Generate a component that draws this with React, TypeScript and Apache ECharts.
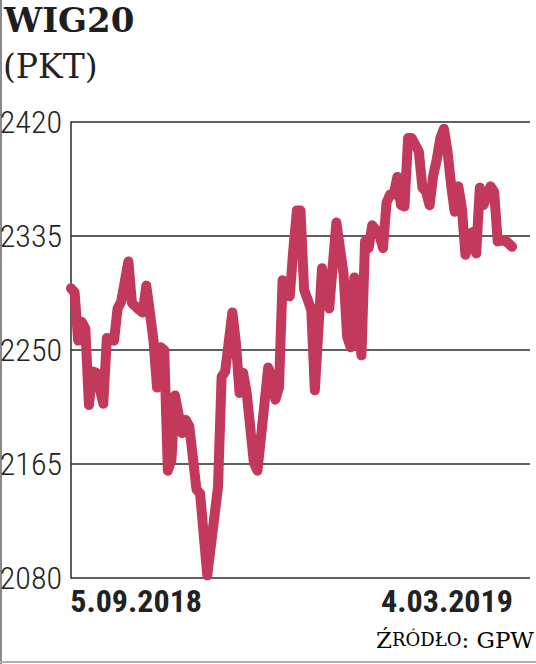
import React, { useEffect, useRef } from 'react';
import * as echarts from 'echarts';

// trading-day index (0 = 5.09.2018, 123 = 4.03.2019) and WIG20 close (pkt)
const dayIndex = [
  0, 1, 2, 3, 4, 5, 6, 7, 9, 10, 12, 13, 14, 16, 17, 19, 20, 21, 22, 23, 24, 25, 26, 27, 28, 29,
  31, 32, 33, 35, 36, 38, 41, 42, 43, 45, 46, 47, 48, 49, 51, 52, 55, 56, 57, 58, 59, 61, 62, 63,
  64, 65, 67, 68, 70, 71, 72, 74, 76, 77, 78, 79, 80, 81, 82, 83, 84, 86, 87, 88, 89, 90, 91, 92,
  93, 94, 95, 97, 98, 99, 100, 101, 102, 103, 104, 105, 106, 107, 108, 109, 110, 112, 113, 114,
  115, 117, 118, 119, 121, 123,
];
const wig20 = [
  2296, 2293, 2257, 2271, 2266, 2209, 2234, 2233, 2210, 2259, 2257, 2281, 2286, 2316, 2285, 2280,
  2278, 2298, 2278, 2257, 2222, 2252, 2250, 2160, 2168, 2216, 2188, 2198, 2193, 2146, 2143, 2082,
  2148, 2230, 2234, 2278, 2255, 2218, 2233, 2218, 2166, 2160, 2237, 2230, 2213, 2222, 2302, 2290,
  2325, 2354, 2354, 2295, 2280, 2220, 2311, 2295, 2281, 2345, 2307, 2260, 2252, 2304, 2276, 2246,
  2331, 2326, 2343, 2336, 2326, 2360, 2366, 2366, 2379, 2358, 2357, 2408, 2408, 2398, 2371, 2368,
  2358, 2380, 2392, 2408, 2415, 2398, 2373, 2353, 2372, 2356, 2321, 2338, 2322, 2371, 2358, 2372,
  2368, 2331, 2332, 2327,
];
const yMin = 2080;
const yMax = 2420;
const yStep = 85;
const dateTickDays = [0, 123];
const dateTickLabels = ['5.09.2018', '4.03.2019'];
const titleText = 'WIG20';
const unitText = '(PKT)';

const NARROW = 'Roboto Condensed';
const SERIF = 'DejaVu Serif';

export default function App() {
  const ref = useRef<HTMLDivElement>(null);
  useEffect(() => {
    const chart = echarts.init(ref.current!, null, { renderer: 'svg' });
    const data = dayIndex.map((d, i) => [d, wig20[i]]);
    chart.setOption({
      animation: false,
      backgroundColor: '#ffffff',
      grid: { left: 71, right: 6, top: 122, bottom: 86, containLabel: false, outerBoundsMode: 'none' },
      xAxis: {
        type: 'value',
        min: 0,
        max: 128,
        axisLine: { show: false },
        axisTick: { show: false },
        splitLine: { show: false },
        axisLabel: {
          customValues: dateTickDays,
          margin: 7,
          formatter: (v: number) => {
            const i = dateTickDays.indexOf(v);
            if (i < 0) return '';
            return i === 0 ? `{l|${dateTickLabels[i]}}` : `{r|${dateTickLabels[i]}}`;
          },
          rich: {
            l: { width: 262, align: 'right', fontFamily: NARROW, fontSize: 32, fontWeight: 'bold', color: '#222' },
            r: { width: 262, align: 'left', fontFamily: NARROW, fontSize: 32, fontWeight: 'bold', color: '#222' },
          },
        },
      },
      yAxis: {
        type: 'value',
        min: yMin,
        max: yMax,
        interval: yStep,
        axisLine: { show: true, lineStyle: { color: '#2a2a2a', width: 1.5 } },
        axisTick: { show: false },
        splitLine: { show: true, lineStyle: { color: '#2a2a2a', width: 1.5 } },
        axisLabel: {
          fontFamily: NARROW,
          fontSize: 32,
          fontWeight: 300,
          color: '#222',
          margin: 9,
          formatter: (v: number) => String(v),
        },
      },
      series: [
        {
          type: 'line',
          data,
          symbol: 'none',
          clip: false,
          lineStyle: { color: '#c3395c', width: 10, cap: 'round', join: 'round' },
        },
      ],
      graphic: [
        { type: 'rect', left: 0, top: 0, shape: { width: 2, height: 664 }, style: { fill: '#8a8a8a' } },
        { type: 'rect', left: 0, top: 661, shape: { width: 536, height: 2 }, style: { fill: '#b0b0b0' } },
        {
          type: 'text',
          left: 4,
          top: 3,
          style: { text: titleText, fontFamily: SERIF, fontWeight: 'bold', fontSize: 34, fill: '#1e1e1e' },
        },
        {
          type: 'text',
          left: 3,
          top: 50,
          style: { text: unitText, fontFamily: SERIF, fontSize: 33, fill: '#222' },
        },
        {
          type: 'text',
          right: 2,
          top: 628,
          style: {
            text: '{a|Ź}{b|RÓDŁO}{a|: GPW}',
            rich: {
              a: { fontFamily: SERIF, fontSize: 23, color: '#222' },
              b: { fontFamily: SERIF, fontSize: 18, color: '#222' },
            },
          },
        },
      ],
    });
    return () => chart.dispose();
  }, []);
  return <div ref={ref} style={{ position: 'fixed', left: 0, top: 0, width: 536, height: 664 }} />;
}
